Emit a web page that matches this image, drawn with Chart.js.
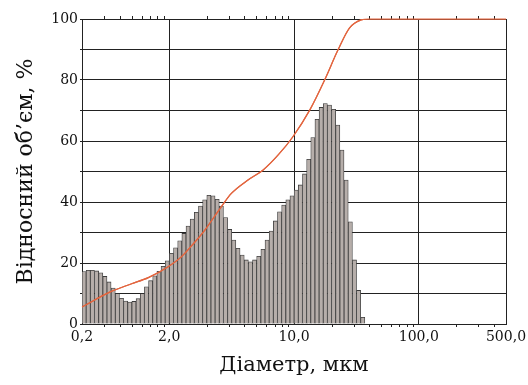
<!DOCTYPE html>
<html><head><meta charset="utf-8">
<script src="https://cdn.jsdelivr.net/npm/chart.js@4/dist/chart.umd.min.js"></script>
<style>html,body{margin:0;padding:0;background:#fff}</style>
</head><body>
<canvas id="c" width="528" height="385" style="width:528px;height:385px;display:block"></canvas>
<script>
// Bin edges of the size classes, µm
const binEdges = [
  0.2, 0.216, 0.233, 0.252, 0.272, 0.294, 0.317, 0.342, 0.370, 0.399,
  0.431, 0.465, 0.502, 0.542, 0.586, 0.632, 0.683, 0.737, 0.796, 0.860,
  0.928, 1.002, 1.082, 1.169, 1.262, 1.363, 1.471, 1.589, 1.715, 1.852,
  2.0, 2.16, 2.33, 2.52, 2.72, 2.94, 3.17, 3.42, 3.70, 3.99,
  4.31, 4.65, 5.02, 5.42, 5.86, 6.32, 6.83, 7.37, 7.96, 8.60,
  9.28, 10.02, 10.82, 11.69, 12.62, 13.63, 14.71, 15.89, 17.15, 18.52,
  20.0, 21.6, 23.3, 25.2, 27.2, 29.4, 31.7, 34.2, 37.0
];
// Histogram heights (relative volume, %)
const volumePct = [
  17.2, 17.6, 17.6, 17.4, 16.8, 15.6, 13.8, 11.8, 10.0, 8.4,
  7.5, 7.2, 7.4, 8.3, 10.0, 12.2, 14.2, 15.8, 17.3, 18.9,
  20.7, 23.2, 25.0, 27.3, 29.7, 32.1, 34.4, 36.6, 38.7, 40.7,
  42.2, 42.0, 40.9, 38.7, 34.9, 31.0, 27.5, 24.8, 22.6, 21.0,
  20.4, 21.0, 22.2, 24.5, 27.5, 30.5, 33.8, 36.8, 39.0, 40.7,
  42.0, 43.9, 45.6, 49.2, 54.0, 61.1, 67.1, 71.0, 72.3, 71.8,
  70.4, 65.2, 57.0, 47.2, 33.5, 21.0, 11.0, 2.2
];
// Cumulative curve
const cumDiameter = [0.2, 0.34, 0.5, 0.68, 0.98, 1.25, 1.6, 1.93, 2.62, 3.15, 4.28, 5.66, 7.5, 9.8, 13.4, 17.6, 22.5, 27.8, 34.5, 40, 500];
const cumPercent  = [5.6, 10.6, 13.2, 15.2, 18.8, 22.0, 26.8, 30.8, 38.5, 42.8, 47.2, 50.5, 55.5, 61.4, 70.2, 80.0, 89.8, 97.0, 99.7, 100, 100];

const xTickValues = [0.2, 1, 10, 100, 500];
const xTickLabels = ['0,2', '2,0', '10,0', '100,0', '500,0'];
const xMinorTicks = [0.3, 0.4, 0.5, 0.6, 0.7, 0.8, 0.9, 2, 3, 4, 5, 6, 7, 8, 9, 20, 30, 40, 50, 60, 70, 80, 90, 200, 300, 400];
const yTickLabels = [0, 20, 40, 60, 80, 100];

const barData = volumePct.map((v, i) => ({x: Math.sqrt(binEdges[i] * binEdges[i + 1]), y: v}));
const lineData = cumDiameter.map((d, i) => ({x: d, y: cumPercent[i]}));

const overlay = {
  id: 'overlay',
  afterDraw(chart) {
    const {ctx, chartArea: a} = chart;
    const x = chart.scales.x;
    ctx.save();
    ctx.strokeStyle = '#222';
    ctx.lineWidth = 1;
    ctx.beginPath();
    xMinorTicks.forEach(v => {
      const px = Math.round(x.getPixelForValue(v)) + 0.5;
      ctx.moveTo(px, a.top); ctx.lineTo(px, a.top - 3);
      ctx.moveTo(px, a.bottom); ctx.lineTo(px, a.bottom + 3);
    });
    ctx.stroke();
    ctx.restore();
    // redraw cumulative curve above the grid, unclipped
    ctx.save();
    chart.getDatasetMeta(0).controller.draw();
    ctx.restore();
  }
};

const serif = 'DejaVu Serif';
new Chart(document.getElementById('c'), {
  type: 'bar',
  data: {
    datasets: [
      {type: 'line', data: lineData, borderColor: '#e2653f', borderWidth: 1.2, pointRadius: 0,
       cubicInterpolationMode: 'monotone', fill: false, order: 0},
      {type: 'bar', data: barData, backgroundColor: '#b6aeaa', borderColor: '#3c3c3c', borderWidth: 0.8,
       barPercentage: 1, categoryPercentage: 1, order: 1}
    ]
  },
  options: {
    responsive: false,
    animation: false,
    layout: {padding: {top: 19, right: 0, left: 0, bottom: 0}},
    plugins: {legend: {display: false}, tooltip: {enabled: false}},
    scales: {
      x: {
        type: 'logarithmic', min: 0.2, max: 500, offset: false, z: 1,
        afterBuildTicks: s => { s.ticks = xTickValues.map(v => ({value: v})); },
        afterFit: s => { s.height = 61; s.paddingRight = 22; s.paddingLeft = 0; },
        ticks: {
          autoSkip: false, maxRotation: 0, color: '#111', padding: 5,
          font: {family: serif, size: 14},
          callback: v => { const i = xTickValues.indexOf(v); return i >= 0 ? xTickLabels[i] : ''; }
        },
        grid: {color: '#222', lineWidth: 1, drawTicks: false, offset: false},
        border: {color: '#222', width: 1},
        title: {display: true, text: 'Діаметр, мкм', color: '#111',
                font: {family: serif, size: 21}, padding: {top: 0, bottom: 7}}
      },
      y: {
        min: 0, max: 100, z: 1,
        afterFit: s => { s.width = 82; },
        ticks: {
          stepSize: 10, color: '#111', padding: 2,
          font: {family: serif, size: 14},
          callback: v => yTickLabels.includes(v) ? String(v) : ''
        },
        grid: {color: '#222', lineWidth: 1, tickLength: 2},
        border: {color: '#222', width: 1},
        title: {display: true, text: 'Відносний об’єм, %', color: '#111',
                font: {family: serif, size: 22}, padding: {top: 13, bottom: 0}}
      }
    }
  },
  plugins: [overlay]
});
</script>
</body></html>
